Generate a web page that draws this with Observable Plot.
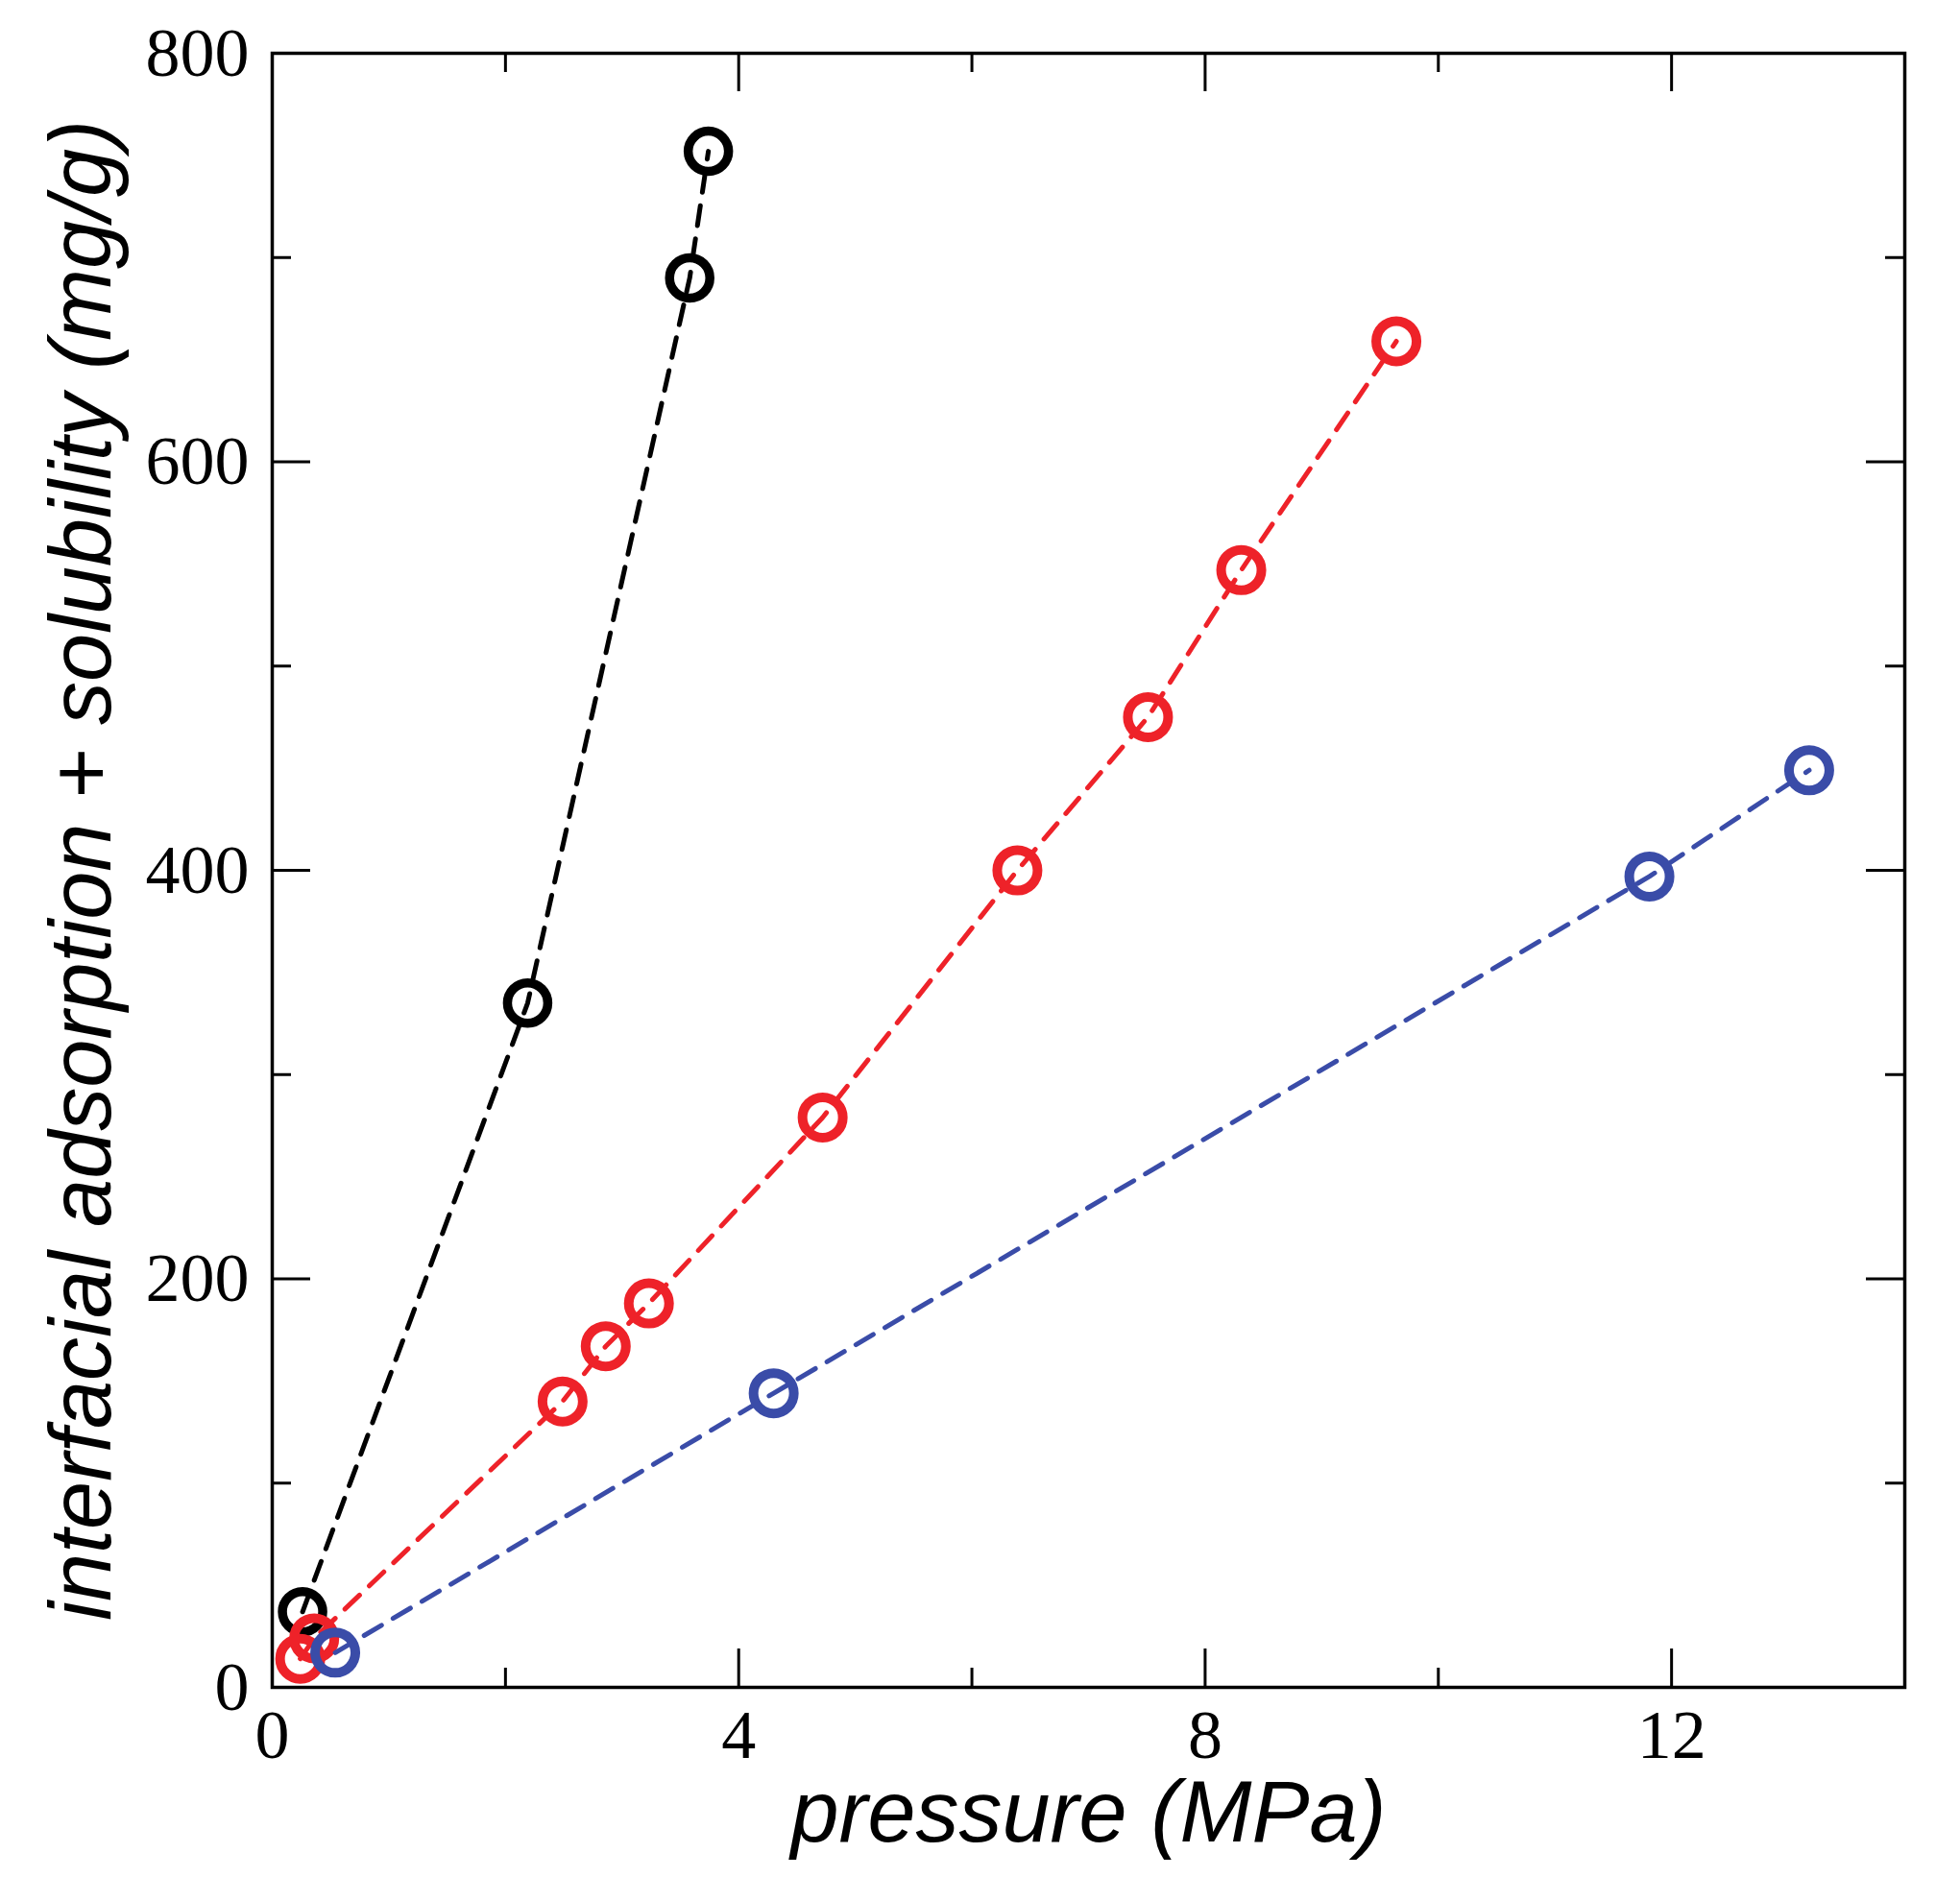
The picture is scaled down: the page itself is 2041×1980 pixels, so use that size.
<!DOCTYPE html>
<html>
<head>
<meta charset="utf-8">
<script src="https://cdn.jsdelivr.net/npm/d3@7"></script>
<script src="https://cdn.jsdelivr.net/npm/@observablehq/plot@0.6"></script>
<style>
  body { margin: 0; background: #fff; }
</style>
</head>
<body>
<div id="chart"></div>
<script>
// pressure (MPa) and uptake (mg/g)
const blackPressure = [0.26, 2.19, 3.58, 3.74];
const blackUptake = [37, 335, 690, 752];
const redPressure = [0.24, 0.36, 2.49, 2.86, 3.23, 4.72, 6.39, 7.51, 8.31, 9.64];
const redUptake = [14, 24, 140, 167, 188, 279, 400, 475, 547, 659];
const bluePressure = [0.54, 4.30, 11.81, 13.18];
const blueUptake = [17, 144, 397, 449];

const xMajor = [0, 4, 8, 12];
const xMinor = [2, 6, 10];
const yMajor = [0, 200, 400, 600, 800];
const yMinor = [100, 300, 500, 700];

const xTitle = 'pressure (MPa)';
const yTitle = 'interfacial adsorption + solubility (mg/g)';

const series = [
  {name: 'black', color: '#000000', r: 21, sw: 9.5, p: blackPressure, q: blackUptake},
  {name: 'red', color: '#ee2229', r: 21, sw: 10, p: redPressure, q: redUptake},
  {name: 'blue', color: '#3a4ca8', r: 21, sw: 10, p: bluePressure, q: blueUptake}
];

const W = 2041, H = 1980;
const mTop = 55, mRight = 58, mBottom = 223, mLeft = 283;
const innerW = W - mLeft - mRight;
const innerH = H - mTop - mBottom;
const major = 40, minor = 20;
const tickFont = 'Liberation Serif, Times New Roman, serif';
const labelFont = 'Liberation Sans, Arial, Helvetica, sans-serif';

const marks = [];
series.forEach(s => {
  const rows = s.p.map((p, i) => ({p, q: s.q[i]}));
  marks.push(Plot.line(rows, {
    x: 'p', y: 'q', stroke: s.color, strokeWidth: 5,
    strokeDasharray: '21,14'
  }));
  marks.push(Plot.dot(rows, {
    x: 'p', y: 'q', r: s.r, stroke: s.color, strokeWidth: s.sw, fill: 'none'
  }));
});

const chart = Plot.plot({
  width: W,
  height: H,
  marginTop: mTop,
  marginRight: mRight,
  marginBottom: mBottom,
  marginLeft: mLeft,
  style: {background: '#fff'},
  x: {domain: [0, 14]},
  y: {domain: [0, 800]},
  marks: [
    ...marks,
    // inward ticks on all four sides
    Plot.tickX(xMajor, {x: d => d, insetTop: innerH - major, strokeWidth: 3}),
    Plot.tickX(xMinor, {x: d => d, insetTop: innerH - minor, strokeWidth: 3}),
    Plot.tickX(xMajor, {x: d => d, insetBottom: innerH - major, strokeWidth: 3}),
    Plot.tickX(xMinor, {x: d => d, insetBottom: innerH - minor, strokeWidth: 3}),
    Plot.tickY(yMajor, {y: d => d, insetRight: innerW - major, strokeWidth: 3}),
    Plot.tickY(yMinor, {y: d => d, insetRight: innerW - minor, strokeWidth: 3}),
    Plot.tickY(yMajor, {y: d => d, insetLeft: innerW - major, strokeWidth: 3}),
    Plot.tickY(yMinor, {y: d => d, insetLeft: innerW - minor, strokeWidth: 3}),
    Plot.frame({stroke: '#000', strokeWidth: 3.5}),
    Plot.axisX(xMajor, {tickSize: 0, tickPadding: 22, tickFormat: d => String(d), label: null, fontSize: 72, fontFamily: tickFont}),
    Plot.axisY(yMajor, {tickSize: 0, tickPadding: 24, tickFormat: d => String(d), label: null, fontSize: 72, fontFamily: tickFont}),
    Plot.text([xTitle], {
      frameAnchor: 'bottom', dy: 132, fontSize: 90, fontStyle: 'italic',
      fontFamily: labelFont, textAnchor: 'middle', lineAnchor: 'middle'
    }),
    Plot.text([yTitle], {
      frameAnchor: 'left', dx: -197, rotate: -90, fontSize: 90, fontStyle: 'italic',
      fontFamily: labelFont, textAnchor: 'middle', lineAnchor: 'middle'
    })
  ]
});

d3.select('#chart').append(() => chart);
</script>
</body>
</html>
